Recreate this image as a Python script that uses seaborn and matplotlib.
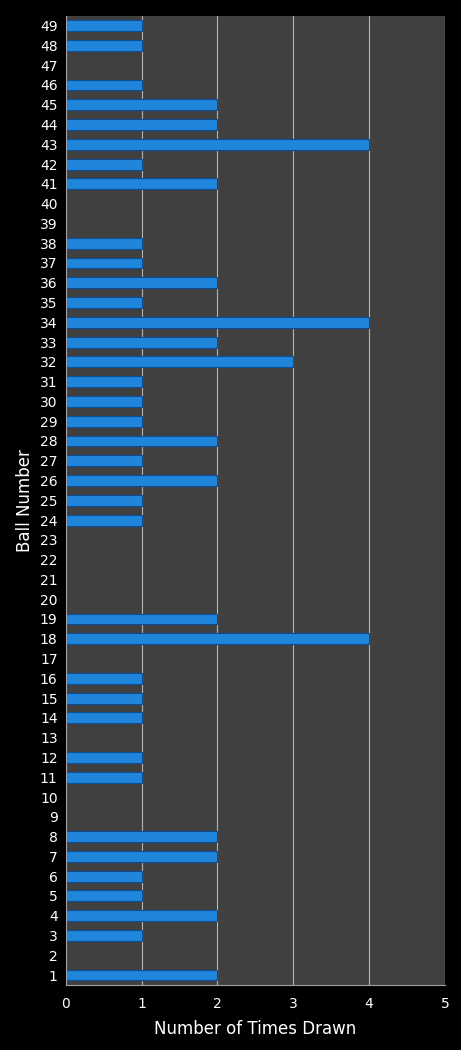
import pandas as pd
import matplotlib
matplotlib.use("Agg")
import matplotlib.pyplot as plt
import seaborn as sns

balls = list(range(1, 50))
times_drawn = [2, 0, 1, 2, 1, 1, 2, 2, 0, 0,
               1, 1, 0, 1, 1, 1, 0, 4, 2, 0,
               0, 0, 0, 1, 1, 2, 1, 2, 1, 1,
               1, 3, 2, 4, 1, 2, 1, 1, 0, 0,
               2, 1, 4, 2, 2, 1, 0, 1, 1]
x_ticks = [0, 1, 2, 3, 4, 5]

df = pd.DataFrame({'ball': [str(b) for b in balls], 'times': times_drawn})
order = [str(b) for b in reversed(balls)]

sns.set_style("dark")
plt.rcParams['font.family'] = ['DejaVu Sans']

fig = plt.figure(figsize=(4.61, 10.5), dpi=100, facecolor='black')
ax = fig.add_axes([0.143, 0.062, 0.822, 0.923])
ax.set_facecolor('#404040')

sns.barplot(data=df, x='times', y='ball', order=order, orient='h',
            color='#1f86dc', saturation=1, width=0.55,
            edgecolor='#0b4f96', linewidth=0.8, ax=ax)

ax.set_xlim(0, 5)
ax.set_xticks(x_ticks)
ax.set_xticklabels([str(t) for t in x_ticks])
ax.grid(axis='x', color='#b4b4b4', linewidth=0.8)
ax.grid(axis='y', visible=False)
ax.set_axisbelow(True)

for side in ['top', 'right']:
    ax.spines[side].set_visible(False)
for side in ['left', 'bottom']:
    ax.spines[side].set_visible(True)
    ax.spines[side].set_color('#a0a0a0')
    ax.spines[side].set_linewidth(0.8)

ax.tick_params(colors='white', labelsize=10, length=0, pad=6)
ax.tick_params(axis='x', pad=9)
ax.set_xlabel('Number of Times Drawn', color='white', fontsize=12, labelpad=6)
ax.set_ylabel('Ball Number', color='white', fontsize=12, labelpad=4)

fig.savefig('out.png', dpi=100, facecolor='black')
